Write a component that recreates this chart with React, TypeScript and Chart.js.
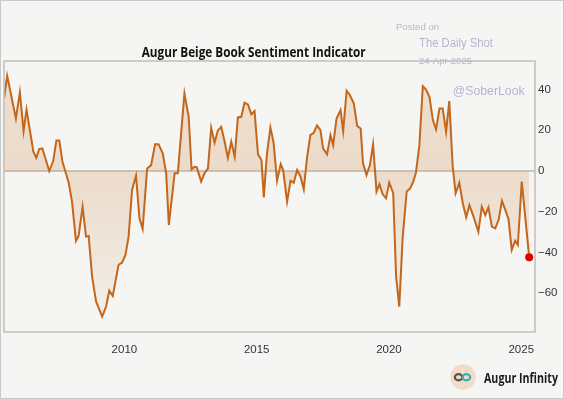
import React, { useEffect, useRef } from 'react';
import { Chart, registerables } from 'chart.js';

Chart.register(...registerables);

// Release dates (decimal years) and indicator values
const dates = [
  2005.45, 2005.57, 2005.9, 2006.05, 2006.19, 2006.3, 2006.56, 2006.67, 2006.78, 2006.9,
  2007.16, 2007.31, 2007.43, 2007.54, 2007.66, 2007.9, 2008.02, 2008.17, 2008.27, 2008.42,
  2008.55, 2008.65, 2008.78, 2008.93, 2009.16, 2009.31, 2009.43, 2009.56, 2009.78, 2009.91,
  2010.04, 2010.16, 2010.29, 2010.44, 2010.57, 2010.69, 2010.86, 2011.01, 2011.16, 2011.29,
  2011.45, 2011.58, 2011.68, 2011.9, 2012.02, 2012.27, 2012.43, 2012.54, 2012.65, 2012.74,
  2012.9, 2013.03, 2013.16, 2013.28, 2013.41, 2013.53, 2013.66, 2013.79, 2013.91, 2014.04,
  2014.17, 2014.29, 2014.42, 2014.54, 2014.67, 2014.8, 2014.92, 2015.05, 2015.18, 2015.27,
  2015.39, 2015.52, 2015.64, 2015.77, 2015.91, 2016.0, 2016.15, 2016.28, 2016.4, 2016.53,
  2016.66, 2016.78, 2016.9, 2017.03, 2017.16, 2017.28, 2017.41, 2017.51, 2017.66, 2017.79,
  2017.89, 2018.02, 2018.17, 2018.27, 2018.4, 2018.52, 2018.67, 2018.8, 2018.93, 2019.02,
  2019.15, 2019.28, 2019.4, 2019.53, 2019.64, 2019.76, 2019.89, 2020.01, 2020.16, 2020.27,
  2020.39, 2020.52, 2020.67, 2020.8, 2020.92, 2021.02, 2021.15, 2021.28, 2021.4, 2021.53,
  2021.66, 2021.78, 2021.91, 2022.03, 2022.16, 2022.28, 2022.41, 2022.52, 2022.66, 2022.79,
  2022.92, 2023.04, 2023.19, 2023.38, 2023.51, 2023.64, 2023.76, 2023.89, 2024.02, 2024.15,
  2024.27, 2024.39, 2024.52, 2024.64, 2024.77, 2024.87, 2025.02, 2025.3,
];

const values = [
  35.6, 46.7, 25.8, 38.6, 19.6, 30.2, 9.5, 6.5, 10.8, 11.1,
  0, 4.9, 15, 15, 4.6, -6, -15, -34.3, -31.9, -17.5,
  -32.2, -31.9, -51.8, -64, -71.4, -66.5, -58.7, -61.3, -46, -45,
  -41.2, -32.2, -9.3, -2.3, -23.2, -28.4, 1.3, 2.9, 13.2, 13.2,
  8.7, -1.1, -26.5, -1.1, -1.1, 38.1, 26.6, 0.8, 2.1, 1.8,
  -5.2, -1.1, 1.3, 21.2, 13.9, 19.8, 21.7, 14.4, 6.5, 14.4,
  7, 26.3, 26.6, 33.5, 32.7, 27.8, 29.4, 8.2, 5.4, -12.9,
  8.7, 21.4, 13.9, -4.8, 3.4, 0.5, -15, -4.8, -5.7, 0.5,
  -2.8, -9, 6.2, 17.6, 18.8, 22.4, 20.1, 11.1, 8.2, 17.6,
  12.7, 25.8, 29.9, 19.6, 39.4, 37.3, 33.2, 22.1, 20.9, 3.8,
  -2, 2.9, 13.1, -10.1, -6.5, -11.3, -13.4, -5.7, -10.9, -51.8,
  -66.5, -32.2, -10.1, -8.5, -5.2, -0.8, 12.7, 41.7, 40, 36.4,
  25, 20.4, 30.7, 30.7, 19.3, 34.3, 2.1, -10.9, -5.7, -15.8,
  -22.7, -16.7, -22.1, -29.8, -17.5, -21.6, -17.8, -27.3, -28.1, -23.7,
  -14.6, -18.8, -23.7, -38.7, -34.2, -36.3, -5.2, -42.3,
];

const xTickLabels = [2010, 2015, 2020, 2025];
const yTickLabels = [-60, -40, -20, 0, 20, 40];

const TITLE = 'Augur Beige Book Sentiment Indicator';
const WATERMARK = ['Posted on', 'The Daily Shot', '24-Apr-2025', '@SoberLook'];
const BRAND = 'Augur Infinity';

const LINE = '#c4661b';
const BG = '#f5f5f3';
const FRAME = '#c2bdb7';
const WM = '#b5b5d0';
const SANS = "'Liberation Sans', Arial, sans-serif";

function drawFit(
  ctx: CanvasRenderingContext2D,
  text: string,
  x: number,
  y: number,
  font: string,
  color: string,
  width: number,
  align: CanvasTextAlign,
) {
  ctx.save();
  ctx.font = font;
  ctx.fillStyle = color;
  ctx.textBaseline = 'alphabetic';
  ctx.textAlign = align;
  const w = ctx.measureText(text).width;
  let s = width > 0 && w > 0 ? width / w : 1;
  s = Math.max(0.75, Math.min(1.25, s));
  ctx.translate(x, y);
  ctx.scale(s, 1);
  ctx.fillText(text, 0, 0);
  ctx.restore();
}

const overlay = {
  id: 'overlay',
  afterDraw(chart: any) {
    const ctx: CanvasRenderingContext2D = chart.ctx;
    const a = chart.chartArea;
    // plot frame
    ctx.save();
    ctx.strokeStyle = FRAME;
    ctx.lineWidth = 1.5;
    ctx.strokeRect(a.left, a.top, a.right - a.left, a.bottom - a.top);
    // outer border
    ctx.strokeStyle = '#c9c9c9';
    ctx.lineWidth = 1;
    ctx.strokeRect(0.5, 0.5, chart.width - 1, chart.height - 1);
    ctx.restore();

    // title
    drawFit(ctx, TITLE, 253.7, 57.3, "bold 15px 'Open Sans', sans-serif", '#111111', 224, 'center');

    // watermark
    drawFit(ctx, WATERMARK[0], 396, 29.7, `9.5px ${SANS}`, WM, 43, 'left');
    drawFit(ctx, WATERMARK[1], 419, 47.3, `12.5px ${SANS}`, WM, 74, 'left');
    drawFit(ctx, WATERMARK[2], 419, 64, `9.5px ${SANS}`, WM, 53, 'left');
    drawFit(ctx, WATERMARK[3], 452.7, 95, `12.5px ${SANS}`, WM, 72, 'left');

    // brand logo
    ctx.save();
    ctx.fillStyle = '#f1dcc9';
    ctx.beginPath();
    ctx.arc(463, 377, 12.8, 0, Math.PI * 2);
    ctx.fill();
    ctx.lineWidth = 2.2;
    ctx.strokeStyle = '#5f524a';
    ctx.beginPath();
    ctx.ellipse(458.6, 377.3, 3.8, 3.1, 0, 0, Math.PI * 2);
    ctx.stroke();
    ctx.strokeStyle = '#33b3ae';
    ctx.beginPath();
    ctx.ellipse(466.4, 377.3, 3.8, 3.1, 0, 0, Math.PI * 2);
    ctx.stroke();
    ctx.restore();
    drawFit(ctx, BRAND, 484, 383.3, "bold 14px 'Open Sans', sans-serif", '#1a1a1a', 74, 'left');
  },
};

export default function App() {
  const ref = useRef<HTMLCanvasElement | null>(null);

  useEffect(() => {
    if (!ref.current) return;
    const last = values.length - 1;
    const chart = new Chart(ref.current, {
      type: 'line',
      data: {
        datasets: [
          {
            data: dates.map((d, i) => ({ x: d, y: values[i] })),
            borderColor: LINE,
            borderWidth: 2,
            tension: 0,
            fill: 'origin',
            backgroundColor: (c: any) => {
              const ch = c.chart;
              const area = ch.chartArea;
              if (!area) return 'rgba(215,160,110,0.28)';
              const z = ch.scales.y.getPixelForValue(0);
              const f = Math.min(Math.max((z - area.top) / (area.bottom - area.top), 0), 1);
              const g = ch.ctx.createLinearGradient(0, area.top, 0, area.bottom);
              g.addColorStop(0, 'rgba(215,160,110,0.27)');
              g.addColorStop(f, 'rgba(215,160,110,0.30)');
              g.addColorStop(1, 'rgba(215,160,110,0.05)');
              return g;
            },
            pointRadius: (c: any) => (c.dataIndex === last ? 4 : 0),
            pointHoverRadius: 0,
            pointBackgroundColor: '#e00000',
            pointBorderColor: '#e00000',
            pointBorderWidth: 0,
          } as any,
        ],
      },
      options: {
        responsive: false,
        animation: false,
        events: [],
        layout: { padding: { left: 4, top: 61, right: 0, bottom: 0 } },
        plugins: {
          legend: { display: false },
          tooltip: { enabled: false },
          title: { display: false },
        },
        scales: {
          x: {
            type: 'linear',
            min: 2005.45,
            max: 2025.52,
            grid: { display: false },
            border: { display: false },
            afterBuildTicks: (s: any) => {
              s.ticks = xTickLabels.map((v) => ({ value: v }));
            },
            afterFit: (s: any) => {
              s.height = 67;
            },
            ticks: {
              padding: 3,
              color: '#333333',
              font: { family: SANS, size: 11.5 },
              maxRotation: 0,
              autoSkip: false,
              callback: (v: any) => String(v),
            },
          },
          y: {
            position: 'right',
            min: -79,
            max: 54,
            afterBuildTicks: (s: any) => {
              s.ticks = yTickLabels.map((v) => ({ value: v }));
            },
            afterFit: (s: any) => {
              s.width = 29;
            },
            grid: {
              drawTicks: false,
              color: (c: any) => (c.tick && c.tick.value === 0 ? '#cbc4bc' : 'rgba(0,0,0,0)'),
              lineWidth: 2,
            },
            border: { display: false },
            ticks: {
              padding: 3,
              color: '#333333',
              font: { family: SANS, size: 11.5 },
              callback: (v: any) => (Number(v) < 0 ? '\u2212' + Math.abs(Number(v)) : String(v)),
            },
          },
        },
      } as any,
      plugins: [overlay],
    });
    return () => chart.destroy();
  }, []);

  return (
    <div
      style={{
        position: 'absolute',
        left: 0,
        top: 0,
        width: 564,
        height: 399,
        background: BG,
      }}
    >
      <canvas ref={ref} width={564} height={399} style={{ display: 'block', width: 564, height: 399 }} />
    </div>
  );
}
